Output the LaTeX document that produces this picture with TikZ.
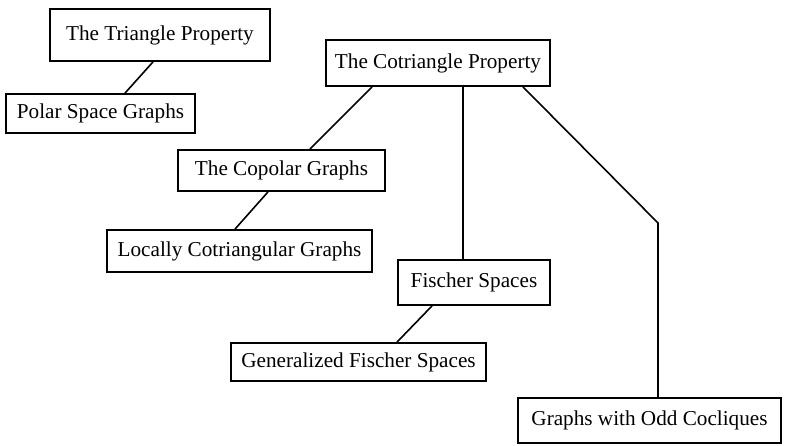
\documentclass[tikz,border=0pt]{standalone}
\usepackage{fontspec}
\setmainfont{Liberation Serif}
\usetikzlibrary{positioning, calc}

\begin{document}
\begin{tikzpicture}[
    x=0.5pt, y=-0.5pt,
    topic/.style={rectangle, draw=black, line width=0.9pt, inner sep=0pt, text centered, font=\fontsize{10.6}{12}\selectfont},
    link/.style={line width=0.8pt},
]
    \useasboundingbox (0,0) rectangle (785,445);

    % triangle side
    \node (tri) [topic, minimum width=110pt, minimum height=26pt] at (160,35) {The Triangle Property};
    \node (polar) [topic, minimum width=94.5pt, minimum height=19.5pt] at (100.5,113.5) {Polar Space Graphs};

    % cotriangle side
    \node (cotri) [topic, minimum width=112pt, minimum height=23pt] at (438,63) {The Cotriangle Property};
    \node (copolar) [topic, minimum width=103.5pt, minimum height=20.5pt] at (281.5,170.5) {The Copolar Graphs};
    \node (locally) [topic, minimum width=132.5pt, minimum height=21pt] at (239.5,251) {Locally Cotriangular Graphs};
    \node (fischer) [topic, minimum width=76pt, minimum height=22.5pt] at (474,282.5) {Fischer Spaces};
    \node (genfis) [topic, minimum width=127.5pt, minimum height=19pt] at (358.5,362) {Generalized Fischer Spaces};
    \node (oddcoc) [topic, minimum width=131.5pt, minimum height=22.5pt] at (649.5,420.5) {Graphs with Odd Cocliques};

    \coordinate (bend) at (658,223);

    \draw [link] ([xshift=-3.5pt]tri.south) -- ([xshift=12.25pt]polar.north);
    \draw [link] ([xshift=-33pt]cotri.south) -- ([xshift=14.25pt]copolar.north);
    \draw [link] ([xshift=-6.75pt]copolar.south) -- ([xshift=-2.25pt]locally.north);
    \draw [link] ([xshift=12.5pt]cotri.south) -- ([xshift=-5.5pt]fischer.north);
    \draw [link] ([xshift=-21pt]fischer.south) -- ([xshift=19.25pt]genfis.north);
    \draw [link] ([xshift=42.5pt]cotri.south) -- (bend) -- ([xshift=4.25pt]oddcoc.north);

\end{tikzpicture}
\end{document}
